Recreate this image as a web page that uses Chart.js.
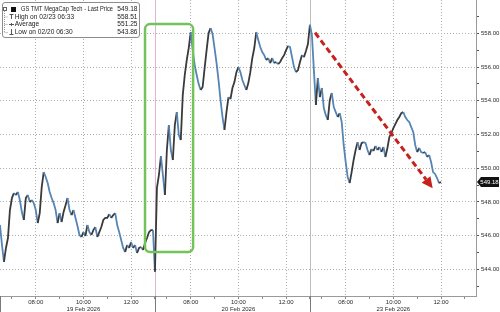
<!DOCTYPE html>
<html>
<head>
<meta charset="utf-8">
<script src="https://cdn.jsdelivr.net/npm/chart.js@4.4.1/dist/chart.umd.min.js"></script>
<style>
html, body { margin: 0; padding: 0; background: #fff; }
#wrap { width: 500px; height: 312px; }
</style>
</head>
<body>
<div id="wrap"><canvas id="chart" width="500" height="312"></canvas></div>
<script>
// session labels and 5-minute prices per session (06:30 - 13:00)
const sessionDays = ['19 Feb 2026', '20 Feb 2026', '23 Feb 2026'];

const day1 = [
546.63, 545.44, 544.44, 545.27, 545.86, 547.52, 548.23, 548.53, 548.41, 548.59,
548.11, 547.40, 546.93, 548.23, 548.41, 547.99, 548.11, 547.93, 547.52, 546.75,
547.34, 548.88, 549.77, 549.48, 549.12, 548.59, 548.23, 547.93, 547.52, 546.75,
547.34, 546.81, 547.40, 547.81, 548.23, 547.52, 547.22, 547.52, 547.05, 546.57,
546.04, 545.92, 546.21, 545.98, 546.63, 546.21, 546.04, 546.33, 546.51, 545.92,
546.21, 546.51, 546.93, 547.05, 547.05, 547.28, 547.05, 547.22, 547.34, 546.63,
546.21, 545.74, 545.27, 545.03, 545.44, 545.27, 545.62, 545.27, 545.44, 544.97,
545.27, 545.33, 545.15, 545.56, 545.86, 546.21, 546.33, 546.33
];

const day2 = [
543.86, 548.83, 549.60, 550.72, 549.60, 548.41, 551.08, 552.56, 551.08, 550.49,
552.56, 553.33, 551.97, 551.67, 554.34, 555.53, 556.42, 557.13, 558.08, 557.01,
556.12, 555.53, 554.99, 554.64, 554.82, 555.94, 557.01, 558.02, 558.31, 557.96,
557.13, 556.24, 555.23, 554.04, 553.04, 552.27, 553.33, 554.22, 554.10, 554.76,
555.11, 555.70, 556.00, 555.70, 555.23, 554.93, 554.64, 555.05, 555.70, 556.53,
557.13, 558.08, 557.60, 557.19, 556.89, 556.71, 556.42, 556.53, 556.24, 556.53,
556.24, 556.30, 556.18, 556.30, 556.53, 556.71, 557.01, 557.25, 557.19, 556.59,
556.00, 555.70, 555.82, 556.30, 556.71, 556.59, 556.95, 557.37
];

const day3 = [
558.51, 557.90, 555.82, 553.75, 555.35, 554.22, 554.76, 553.57, 553.15, 552.86,
554.04, 554.46, 553.63, 553.33, 553.04, 553.27, 552.74, 551.38, 550.37, 549.48,
549.12, 549.77, 550.49, 551.08, 551.55, 551.08, 551.49, 551.55, 551.49, 551.08,
550.78, 551.14, 551.02, 551.32, 551.08, 551.26, 550.96, 551.26, 550.67, 551.20,
551.85, 552.09, 552.38, 552.62, 552.86, 553.04, 553.27, 553.33, 553.04, 552.86,
552.74, 552.44, 552.15, 551.38, 550.96, 551.20, 550.96, 550.90, 550.96, 550.67,
550.78, 550.37, 549.77, 549.66, 549.42, 549.12, 549.18
];

// time ticks inside a session (minutes after 06:30)
const hourOffsets = [30, 90, 150, 210, 270, 330];
const hourLabels = ['07:00', '08:00', '09:00', '10:00', '11:00', '12:00'];

const yTicks = [543, 544, 545, 546, 547, 548, 549, 550, 551, 552, 553, 554, 555, 556, 557, 558, 559];

const legendNames = ['GS TMT MegaCap Tech - Last Price', 'High on 02/23 06:33', 'Average', 'Low on 02/20 06:30'];
const legendValues = ['549.18', '558.51', '551.25', '543.86'];
const lastPrice = 549.18;

// annotation anchors (minutes, price)
const boxCorners = [[365, 558.55], [486, 545.03]];
const arrowEnds = [[793, 558.04], [1089, 548.81]];

const SESSION = 390;
const STEP = 5;

const points = [];
[day1, day2, day3].forEach((arr, d) => {
  arr.forEach((v, i) => points.push({ x: d * SESSION + i * STEP, y: v }));
});

const xTicks = [];
sessionDays.forEach((_, d) => {
  xTicks.push(d * SESSION);
  hourOffsets.forEach(o => xTicks.push(d * SESSION + o));
});
xTicks.push(3 * SESSION); // 13:00 of last session
const xMax = 1198;

function rrect(ctx, x, y, w, h, r) {
  ctx.beginPath();
  ctx.moveTo(x + r, y);
  ctx.lineTo(x + w - r, y);
  ctx.arcTo(x + w, y, x + w, y + r, r);
  ctx.lineTo(x + w, y + h - r);
  ctx.arcTo(x + w, y + h, x + w - r, y + h, r);
  ctx.lineTo(x + r, y + h);
  ctx.arcTo(x, y + h, x, y + h - r, r);
  ctx.lineTo(x, y + r);
  ctx.arcTo(x, y, x + r, y, r);
  ctx.closePath();
}

const decor = {
  id: 'decor',
  beforeDatasetsDraw(chart) {
    const { ctx, chartArea: a, scales: { x } } = chart;
    ctx.save();
    ctx.lineWidth = 1;
    const p1 = Math.round(x.getPixelForValue(SESSION)) + 0.5;
    ctx.strokeStyle = '#e6b3d8';
    ctx.beginPath(); ctx.moveTo(p1, a.top); ctx.lineTo(p1, a.bottom); ctx.stroke();
    const p2 = Math.round(x.getPixelForValue(2 * SESSION)) + 0.5;
    ctx.strokeStyle = '#bdbdbd';
    ctx.beginPath(); ctx.moveTo(p2, a.top); ctx.lineTo(p2, a.bottom); ctx.stroke();
    ctx.restore();
  },
  afterDatasetsDraw(chart) {
    const { ctx, scales: { x, y } } = chart;
    ctx.save();
    // green highlight box
    const bx0 = x.getPixelForValue(boxCorners[0][0]);
    const by0 = y.getPixelForValue(boxCorners[0][1]);
    const bx1 = x.getPixelForValue(boxCorners[1][0]);
    const by1 = y.getPixelForValue(boxCorners[1][1]);
    ctx.strokeStyle = '#72c35a';
    ctx.lineWidth = 2.5;
    rrect(ctx, bx0, by0, bx1 - bx0, by1 - by0, 5);
    ctx.stroke();

    // red dashed arrow
    const ax0 = x.getPixelForValue(arrowEnds[0][0]);
    const ay0 = y.getPixelForValue(arrowEnds[0][1]);
    const ax1 = x.getPixelForValue(arrowEnds[1][0]);
    const ay1 = y.getPixelForValue(arrowEnds[1][1]);
    const ang = Math.atan2(ay1 - ay0, ax1 - ax0);
    const head = 11;
    const sx = ax1 - Math.cos(ang) * head;
    const sy = ay1 - Math.sin(ang) * head;
    ctx.strokeStyle = '#c8201c';
    ctx.fillStyle = '#c8201c';
    ctx.lineWidth = 3;
    ctx.setLineDash([6, 3.5]);
    ctx.beginPath(); ctx.moveTo(ax0, ay0); ctx.lineTo(sx, sy); ctx.stroke();
    ctx.setLineDash([]);
    ctx.beginPath();
    ctx.moveTo(ax1, ay1);
    ctx.lineTo(sx + Math.cos(ang + Math.PI / 2) * 5.5, sy + Math.sin(ang + Math.PI / 2) * 5.5);
    ctx.lineTo(sx + Math.cos(ang - Math.PI / 2) * 5.5, sy + Math.sin(ang - Math.PI / 2) * 5.5);
    ctx.closePath();
    ctx.fill();
    ctx.restore();
  },
  afterDraw(chart) {
    const { ctx, chartArea: a, scales: { x, y } } = chart;
    ctx.save();
    // session separators below axis
    ctx.strokeStyle = '#7a7a7a';
    ctx.lineWidth = 1;
    [0, SESSION, 2 * SESSION].forEach(v => {
      const p = Math.round(x.getPixelForValue(v)) + 0.5;
      ctx.beginPath(); ctx.moveTo(p, a.bottom); ctx.lineTo(p, chart.height); ctx.stroke();
    });

    // last price tag
    const ty = Math.round(y.getPixelForValue(lastPrice));
    const tx = a.right + 1;
    ctx.fillStyle = '#111';
    ctx.beginPath();
    ctx.moveTo(tx, ty);
    ctx.lineTo(tx + 4, ty - 5);
    ctx.lineTo(499, ty - 5);
    ctx.lineTo(499, ty + 5);
    ctx.lineTo(tx + 4, ty + 5);
    ctx.closePath();
    ctx.fill();
    ctx.fillStyle = '#fff';
    ctx.font = '6px "Liberation Sans", sans-serif';
    ctx.textAlign = 'center';
    ctx.textBaseline = 'middle';
    ctx.fillText(legendValues[0], 489.5, ty + 0.5);

    // legend box
    ctx.fillStyle = '#fff';
    ctx.strokeStyle = '#8c8c8c';
    rrect(ctx, 2.5, 2.5, 137, 35, 2.5);
    ctx.fill();
    ctx.stroke();

    ctx.strokeStyle = '#9a9a9a';
    ctx.setLineDash([1, 1]);
    ctx.beginPath(); ctx.moveTo(4.5, 11); ctx.lineTo(4.5, 32); ctx.stroke();
    [16.5, 24, 32].forEach(yy => {
      ctx.beginPath(); ctx.moveTo(4.5, yy + 0.5); ctx.lineTo(8, yy + 0.5); ctx.stroke();
    });
    ctx.setLineDash([]);
    ctx.strokeStyle = '#666';
    ctx.strokeRect(3.5, 7.5, 3, 3);
    ctx.fillStyle = '#111';
    ctx.fillRect(11, 7, 5, 5);

    ctx.strokeStyle = '#555';
    ctx.beginPath();
    ctx.moveTo(9.5, 14.5); ctx.lineTo(13.5, 14.5);
    ctx.moveTo(11.5, 14.5); ctx.lineTo(11.5, 19);
    ctx.moveTo(9, 24.5); ctx.lineTo(14, 24.5);
    ctx.moveTo(11.5, 23); ctx.lineTo(11.5, 26);
    ctx.moveTo(11.5, 29); ctx.lineTo(11.5, 34.5);
    ctx.moveTo(9.5, 34.5); ctx.lineTo(13.5, 34.5);
    ctx.stroke();

    ctx.fillStyle = '#222';
    ctx.font = '6.6px "Liberation Sans", sans-serif';
    ctx.textBaseline = 'middle';
    const rowsY = [9.5, 16.8, 24.4, 32];
    legendNames.forEach((n, i) => {
      ctx.textAlign = 'left';
      if (i === 0) ctx.fillText(n, 21, rowsY[i], 92);
      else ctx.fillText(n, 14.7, rowsY[i]);
      ctx.textAlign = 'right';
      ctx.fillText(legendValues[i], 137.5, rowsY[i]);
    });
    ctx.restore();
  }
};

new Chart(document.getElementById('chart'), {
  type: 'line',
  data: {
    datasets: [{
      data: points,
      borderColor: '#3a3a3a',
      borderWidth: 1.8,
      pointRadius: 0,
      tension: 0,
      segment: {
        borderColor: c => c.p1.parsed.y >= c.p0.parsed.y ? '#3a3a3a' : '#5585b5'
      }
    }]
  },
  options: {
    responsive: false,
    animation: false,
    layout: { padding: 0 },
    plugins: { legend: { display: false }, tooltip: { enabled: false } },
    scales: {
      x: {
        type: 'linear',
        min: 0,
        max: xMax,
        afterBuildTicks: s => { s.ticks = xTicks.map(v => ({ value: v })); },
        afterFit: s => { s.height = 16; s.paddingLeft = 0; s.paddingRight = 0; },
        ticks: {
          autoSkip: false,
          maxRotation: 0,
          padding: 0,
          color: '#2a2a2a',
          font: { family: 'Liberation Sans', size: 6, lineHeight: 1.2 },
          callback: v => {
            const d = Math.floor(v / SESSION);
            const o = v - d * SESSION;
            const k = hourOffsets.indexOf(o);
            if (k < 0 || k % 2 === 0) return '';
            if (o === 210) return [hourLabels[k], sessionDays[d]];
            return hourLabels[k];
          }
        },
        grid: {
          color: c => {
            const v = c.tick ? c.tick.value : 0;
            const o = v % SESSION;
            return (o === 90 || o === 210 || o === 330) ? '#adadad' : 'rgba(0,0,0,0)';
          },
          tickColor: '#8a8a8a',
          tickLength: 3,
          lineWidth: 1
        },
        border: { color: '#9a9a9a', dash: [1, 2] }
      },
      y: {
        position: 'right',
        min: 542.42,
        max: 559.98,
        afterBuildTicks: s => { s.ticks = yTicks.map(v => ({ value: v })); },
        afterFit: s => { s.width = 24; s.paddingTop = 0; s.paddingBottom = 0; },
        ticks: {
          padding: 2,
          color: '#2a2a2a',
          font: { family: 'Liberation Sans', size: 6 },
          callback: v => v % 2 === 0 ? v.toFixed(2) : ''
        },
        grid: {
          color: c => (c.tick && c.tick.value % 2 === 0) ? '#adadad' : 'rgba(0,0,0,0)',
          tickColor: '#555',
          tickLength: 3,
          lineWidth: 1
        },
        border: { color: '#9a9a9a', dash: [1, 2] }
      }
    }
  },
  plugins: [decor]
});
</script>
</body>
</html>
